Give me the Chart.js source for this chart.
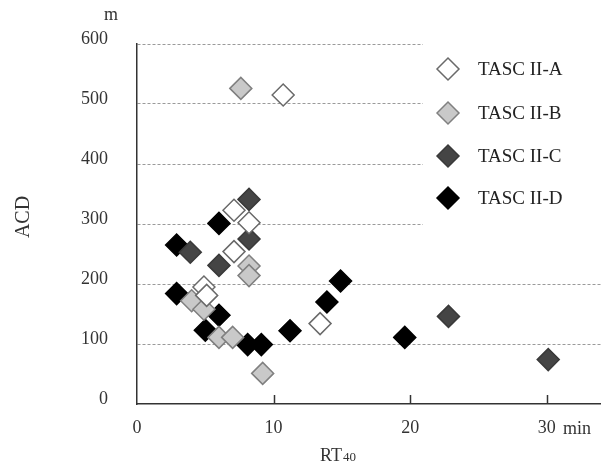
<!DOCTYPE html>
<html>
<head>
<meta charset="utf-8">
<script src="https://cdn.jsdelivr.net/npm/chart.js@4/dist/chart.umd.min.js"></script>
<style>
  html, body { margin: 0; padding: 0; background: #fff; overflow: hidden; }
  #wrap { width: 614px; height: 463px; position: relative; }
</style>
</head>
<body>
<div id="wrap"><canvas id="chart"></canvas></div>
<script>
// Series labels
const seriesLabels = ['TASC II-A', 'TASC II-B', 'TASC II-C', 'TASC II-D'];

// RT40 (min) and ACD (m)
const aX = [7.1, 8.2, 7.1, 4.9, 5.1, 13.4, 10.7];
const aY = [323, 302, 254, 195, 181, 134, 515];

const bX = [7.6, 8.2, 8.2, 4.0, 4.9, 6.0, 7.0, 9.2];
const bY = [526, 230, 214, 172, 158, 111, 111, 51];

const cX = [8.2, 3.9, 8.2, 6.0, 22.8, 30.1];
const cY = [341, 253, 275, 231, 146, 74];

const dX = [6.0, 2.9, 2.9, 6.0, 5.0, 8.1, 9.1, 11.2, 13.9, 14.9, 19.6];
const dY = [301, 265, 184, 148, 123, 99, 99, 122, 170, 205, 111];

// Axis ticks
const xTicks = [0, 10, 20, 30];
const yTicks = [0, 100, 200, 300, 400, 500, 600];

const serif = "'Liberation Serif', 'Times New Roman', serif";

function toPoints(xs, ys) {
    return xs.map((x, i) => ({ x: x, y: ys[i] }));
}

const styles = [
    { fill: '#ffffff', border: '#6a6a6a' },
    { fill: '#c9c9c9', border: '#808080' },
    { fill: '#454545', border: '#3a3a3a' },
    { fill: '#000000', border: '#000000' }
];

const allData = [toPoints(aX, aY), toPoints(bX, bY), toPoints(cX, cY), toPoints(dX, dY)];

const datasets = seriesLabels.map((label, i) => ({
    label: label,
    data: allData[i],
    pointStyle: 'rectRot',
    pointRadius: 11,
    pointHoverRadius: 11,
    borderWidth: 1.5,
    backgroundColor: styles[i].fill,
    borderColor: styles[i].border
}));

// Legend box, axis titles and inner tick marks
const decorations = {
    id: 'decorations',
    afterDatasetsDraw(chart) {
        const ctx = chart.ctx;
        const xs = chart.scales.x;
        const area = chart.chartArea;
        ctx.save();

        // tick marks pointing up from the x axis
        ctx.strokeStyle = '#333';
        ctx.lineWidth = 1.5;
        xTicks.slice(1).forEach(v => {
            const px = Math.round(xs.getPixelForValue(v)) + 0.5;
            ctx.beginPath();
            ctx.moveTo(px, area.bottom);
            ctx.lineTo(px, area.bottom - 9);
            ctx.stroke();
        });

        // legend
        ctx.fillStyle = '#fff';
        ctx.fillRect(423, 38, 200, 217);
        const rows = [69, 113, 156, 198];
        chart.data.datasets.forEach((ds, i) => {
            const cx = 448, cy = rows[i], r = 11;
            ctx.beginPath();
            ctx.moveTo(cx - r, cy);
            ctx.lineTo(cx, cy - r);
            ctx.lineTo(cx + r, cy);
            ctx.lineTo(cx, cy + r);
            ctx.closePath();
            ctx.fillStyle = ds.backgroundColor;
            ctx.fill();
            ctx.lineWidth = 1.5;
            ctx.strokeStyle = ds.borderColor;
            ctx.stroke();
            ctx.fillStyle = '#222';
            ctx.font = '19px ' + serif;
            ctx.textAlign = 'left';
            ctx.textBaseline = 'middle';
            ctx.fillText(ds.label, 478, cy + 1);
        });

        // axis titles
        ctx.fillStyle = '#333';
        ctx.textBaseline = 'alphabetic';
        ctx.font = '18px ' + serif;
        ctx.textAlign = 'center';
        ctx.fillText('m', 111, 20);
        ctx.textAlign = 'left';
        ctx.fillText('min', 563, 434);

        ctx.fillText('RT', 320, 461);
        const rtW = ctx.measureText('RT').width;
        ctx.font = '13px ' + serif;
        ctx.fillText('40', 320 + rtW + 1, 461);

        ctx.save();
        ctx.translate(29, 217);
        ctx.rotate(-Math.PI / 2);
        ctx.font = '20px ' + serif;
        ctx.textAlign = 'center';
        ctx.fillText('ACD', 0, 0);
        ctx.restore();

        ctx.restore();
    }
};

new Chart(document.getElementById('chart'), {
    type: 'scatter',
    data: { datasets: datasets },
    options: {
        responsive: true,
        maintainAspectRatio: false,
        animation: false,
        layout: { padding: { top: 44, right: 0, left: 0, bottom: 0 } },
        plugins: {
            legend: { display: false },
            tooltip: { enabled: false }
        },
        scales: {
            x: {
                type: 'linear',
                min: 0,
                max: 34,
                afterBuildTicks: (scale) => {
                    scale.ticks = xTicks.map(v => ({ value: v }));
                },
                afterFit: (scale) => { scale.height = 59; },
                grid: { display: false, drawTicks: false },
                border: { display: true, color: '#333', width: 1.5 },
                ticks: {
                    color: '#333',
                    padding: 13,
                    maxRotation: 0,
                    font: { family: serif, size: 18 }
                }
            },
            y: {
                type: 'linear',
                min: 0,
                max: 600,
                afterBuildTicks: (scale) => {
                    scale.ticks = yTicks.map(v => ({ value: v }));
                },
                afterFit: (scale) => { scale.width = 137; },
                grid: {
                    drawTicks: false,
                    lineWidth: 1,
                    color: (c) => (c.tick && c.tick.value === 0) ? 'rgba(0,0,0,0)' : '#9a9a9a'
                },
                border: { display: true, color: '#333', width: 1.5, dash: [3, 2] },
                ticks: {
                    color: '#333',
                    padding: 29,
                    labelOffset: -5,
                    font: { family: serif, size: 18 }
                }
            }
        }
    },
    plugins: [decorations]
});
</script>
</body>
</html>
